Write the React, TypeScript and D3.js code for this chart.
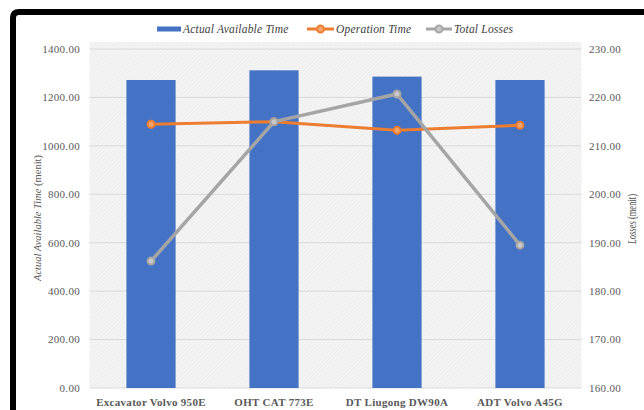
import React from "react";
import * as d3 from "d3";

const categories = ["Excavator Volvo 950E", "OHT CAT 773E", "DT Liugong DW90A", "ADT Volvo A45G"];
const actualAvailable = [1272, 1312, 1286, 1272];
const operationTime = [1089, 1100, 1064, 1085];
const totalLosses = [186.2, 215.0, 220.7, 189.5];
const leftTicks = [0, 200, 400, 600, 800, 1000, 1200, 1400];
const rightTicks = [160, 170, 180, 190, 200, 210, 220, 230];

const W = 644, H = 410;
const plot = { left: 89.5, right: 581.5, top: 49, bottom: 388 };

export default function App() {
  const x = d3.scaleBand<string>().domain(categories).range([plot.left, plot.right]).paddingInner(0.6).paddingOuter(0.3);
  const y = d3.scaleLinear().domain([0, 1400]).range([plot.bottom, plot.top]);
  const y2 = d3.scaleLinear().domain([160, 230]).range([plot.bottom, plot.top]);
  const cx = (c: string) => (x(c) as number) + x.bandwidth() / 2;
  const opLine = d3.line<number>().x((_, i) => cx(categories[i])).y((d) => y(d))(operationTime) as string;
  const lossLine = d3.line<number>().x((_, i) => cx(categories[i])).y((d) => y2(d))(totalLosses) as string;
  const font = "'Liberation Serif', 'Times New Roman', serif";
  const tc = "#595959";
  return (
    <svg width={W} height={H} style={{ position: "absolute", left: 0, top: 0, display: "block" }}>
      <defs>
        <pattern id="hatch" width="3" height="3" patternUnits="userSpaceOnUse" patternTransform="rotate(45)">
          <rect width="3" height="3" fill="#f4f4f4" />
          <line x1="0" y1="0" x2="0" y2="3" stroke="#e6e6e6" strokeWidth="1" />
        </pattern>
      </defs>
      <rect x={0} y={0} width={W} height={H} fill="#ffffff" />
      <rect x={plot.left} y={42} width={plot.right - plot.left} height={plot.bottom - 42} fill="url(#hatch)" />
      {leftTicks.map((t) => (
        <line key={t} x1={plot.left} x2={plot.right} y1={y(t)} y2={y(t)} stroke="#d9d9d9" strokeWidth={1} />
      ))}
      {leftTicks.map((t) => (
        <text key={"l" + t} x={80} y={y(t)} dy="0.35em" textAnchor="end" fontFamily={font} fontSize={11} letterSpacing={0.3} fill={tc}>
          {t.toFixed(2)}
        </text>
      ))}
      {rightTicks.map((t) => (
        <text key={"r" + t} x={589} y={y2(t)} dy="0.35em" textAnchor="start" fontFamily={font} fontSize={11} letterSpacing={0.3} fill={tc}>
          {t.toFixed(2)}
        </text>
      ))}
      {categories.map((c, i) => (
        <rect key={c} x={x(c)} y={y(actualAvailable[i])} width={x.bandwidth()} height={plot.bottom - y(actualAvailable[i])} fill="#4472c4" />
      ))}
      <path d={opLine} fill="none" stroke="#ed7d31" strokeWidth={3} strokeLinejoin="round" />
      {operationTime.map((v, i) => (
        <circle key={"o" + i} cx={cx(categories[i])} cy={y(v)} r={3.5} fill="#f4a46e" stroke="#ed7d31" strokeWidth={2} />
      ))}
      <path d={lossLine} fill="none" stroke="#a5a5a5" strokeWidth={3.5} strokeLinejoin="round" />
      {totalLosses.map((v, i) => (
        <circle key={"g" + i} cx={cx(categories[i])} cy={y2(v)} r={3.5} fill="#c9c9c9" stroke="#a5a5a5" strokeWidth={2} />
      ))}
      {categories.map((c) => (
        <text key={"x" + c} x={cx(c)} y={402} dy="0.35em" textAnchor="middle" fontFamily={font} fontSize={11} letterSpacing={0.3} fontWeight="bold" fill={tc}>
          {c}
        </text>
      ))}
      <text transform="translate(37,218) rotate(-90)" textAnchor="middle" dy="0.35em" fontFamily={font} fontSize={10.5} fill={tc}>
        <tspan fontStyle="italic">Actual Available Time</tspan> (menit)
      </text>
      <text transform="translate(632,219) rotate(-90)" textAnchor="middle" dy="0.35em" fontFamily={font} fontSize={11.5} fill="#4d4d4d" textLength={50} lengthAdjust="spacingAndGlyphs">
        <tspan fontStyle="italic">Losses</tspan> (menit)
      </text>
      {/* legend */}
      <g fontFamily={font} fontSize={11.5} fontStyle="italic" fill="#404040" letterSpacing={0.2}>
        <rect x={157} y={26.5} width={24} height={5} fill="#4472c4" />
        <text x={183} y={29} dy="0.35em">Actual Available Time</text>
        <line x1={307} x2={334} y1={29} y2={29} stroke="#ed7d31" strokeWidth={3} />
        <circle cx={320.5} cy={29} r={3.5} fill="#f4a46e" stroke="#ed7d31" strokeWidth={2} />
        <text x={336} y={29} dy="0.35em">Operation Time</text>
        <line x1={426} x2={452} y1={29} y2={29} stroke="#a5a5a5" strokeWidth={3} />
        <circle cx={439} cy={29} r={3.5} fill="#c9c9c9" stroke="#a5a5a5" strokeWidth={2} />
        <text x={454} y={29} dy="0.35em">Total Losses</text>
      </g>
      {/* frame */}
      <path d={`M13,${H + 5} L13,18 Q13,12 19,12 L${W + 5},12`} fill="none" stroke="#000" strokeWidth={6} />
    </svg>
  );
}
